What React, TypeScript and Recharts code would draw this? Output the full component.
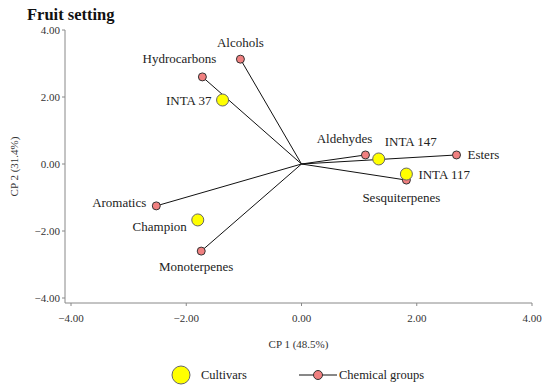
import React from 'react';
import { ScatterChart, Scatter, XAxis, YAxis, ReferenceLine, Legend } from 'recharts';

// cultivars (PCA scores)
const cultivarNames = ['INTA 37', 'INTA 147', 'INTA 117', 'Champion'];
const cultivarX = [-1.37, 1.34, 1.82, -1.80];
const cultivarY = [1.91, 0.15, -0.30, -1.67];

// chemical groups (loadings)
const groupNames = ['Alcohols', 'Hydrocarbons', 'Aldehydes', 'Esters', 'Sesquiterpenes', 'Aromatics', 'Monoterpenes'];
const groupX = [-1.06, -1.72, 1.11, 2.69, 1.82, -2.52, -1.74];
const groupY = [3.13, 2.60, 0.27, 0.27, -0.48, -1.25, -2.60];

const ticks = [-4, -2, 0, 2, 4];

const cultivars = cultivarNames.map((name, i) => ({ name, x: cultivarX[i], y: cultivarY[i] }));
const groups = groupNames.map((name, i) => ({ name, x: groupX[i], y: groupY[i] }));

// label placement relative to the marker
const labelPos: Record<string, { dx: number; dy: number; anchor: string }> = {
  'Alcohols': { dx: 0, dy: -17, anchor: 'middle' },
  'Hydrocarbons': { dx: -23, dy: -18, anchor: 'middle' },
  'INTA 37': { dx: -11, dy: 0, anchor: 'end' },
  'Aldehydes': { dx: -21, dy: -16, anchor: 'middle' },
  'INTA 147': { dx: 32, dy: -17, anchor: 'middle' },
  'Esters': { dx: 11, dy: 0, anchor: 'start' },
  'INTA 117': { dx: 12, dy: 0, anchor: 'start' },
  'Sesquiterpenes': { dx: -5, dy: 17, anchor: 'middle' },
  'Aromatics': { dx: -10, dy: -3, anchor: 'end' },
  'Champion': { dx: -11, dy: 7, anchor: 'end' },
  'Monoterpenes': { dx: -5, dy: 15, anchor: 'middle' },
};

const font = "'Liberation Serif', serif";
const fmt = (v: number) => v.toFixed(2).replace('-', '\u2212');

const makeShape = (r: number, fill: string, stroke: string) => (props: any) => {
  const { cx, cy, payload } = props;
  const p = labelPos[payload.name];
  return (
    <g>
      <circle cx={cx} cy={cy} r={r} fill={fill} stroke={stroke} strokeWidth={1} />
      <text
        x={cx + p.dx}
        y={cy + p.dy}
        textAnchor={p.anchor as any}
        dominantBaseline="central"
        fontSize={13}
        fontFamily={font}
        fill="#222"
      >
        {payload.name}
      </text>
    </g>
  );
};

const LegendBox = () => (
  <svg width={550} height={24} style={{ display: 'block' }}>
    <circle cx={181} cy={12} r={9} fill="#FFFF00" stroke="#666" strokeWidth={1} />
    <text x={201} y={12} dominantBaseline="central" fontSize={12.5} fontFamily={font} fill="#222">
      Cultivars
    </text>
    <line x1={299} x2={337} y1={12} y2={12} stroke="#111" strokeWidth={1} />
    <circle cx={318} cy={12} r={4.5} fill="#F08080" stroke="#333" strokeWidth={1} />
    <text x={339} y={12} dominantBaseline="central" fontSize={12.5} fontFamily={font} fill="#222">
      Chemical groups
    </text>
  </svg>
);

export default function App() {
  return (
    <div style={{ position: 'absolute', left: 0, top: 0, width: 550, height: 390, background: '#fff' }}>
      <div
        style={{
          position: 'absolute',
          left: 27,
          top: 7,
          fontFamily: font,
          fontWeight: 'bold',
          fontSize: 16.5,
          lineHeight: 1,
          color: '#111',
        }}
      >
        Fruit setting
      </div>
      <ScatterChart width={550} height={390} margin={{ top: 30, right: 18, left: 0, bottom: 3 }}>
        <XAxis
          type="number"
          dataKey="x"
          domain={[-4, 4]}
          ticks={ticks}
          tickFormatter={fmt}
          padding={{ left: 6, right: 0 }}
          height={60}
          stroke="#888"
          tickSize={3}
          tickMargin={8}
          tick={{ fontSize: 11, fill: '#333', fontFamily: font }}
          label={{ value: 'CP 1 (48.5%)', position: 'insideTop', offset: 37, fontSize: 11, fill: '#333', fontFamily: font }}
        />
        <YAxis
          type="number"
          dataKey="y"
          domain={[-4, 4]}
          ticks={ticks}
          tickFormatter={fmt}
          padding={{ top: 0, bottom: 5 }}
          width={65}
          stroke="#888"
          tickSize={3}
          tickMargin={2}
          tick={{ fontSize: 11, fill: '#333', fontFamily: font }}
          label={{ value: 'CP 2 (31.4%)', angle: -90, position: 'insideLeft', offset: 14, fontSize: 11, fill: '#333', fontFamily: font, style: { textAnchor: 'middle' } }}
        />
        {groups.map((g) => (
          <ReferenceLine
            key={g.name}
            segment={[{ x: 0, y: 0 }, { x: g.x, y: g.y }]}
            stroke="#111"
            strokeWidth={1}
          />
        ))}
        <Scatter
          name="Chemical groups"
          data={groups}
          isAnimationActive={false}
          shape={makeShape(4, '#F08080', '#333')}
        />
        <Scatter
          name="Cultivars"
          data={cultivars}
          isAnimationActive={false}
          shape={makeShape(6, '#FFFF00', '#666')}
        />
        <Legend
          verticalAlign="bottom"
          content={() => <LegendBox />}
          wrapperStyle={{ left: 0, width: 550 }}
        />
      </ScatterChart>
    </div>
  );
}
